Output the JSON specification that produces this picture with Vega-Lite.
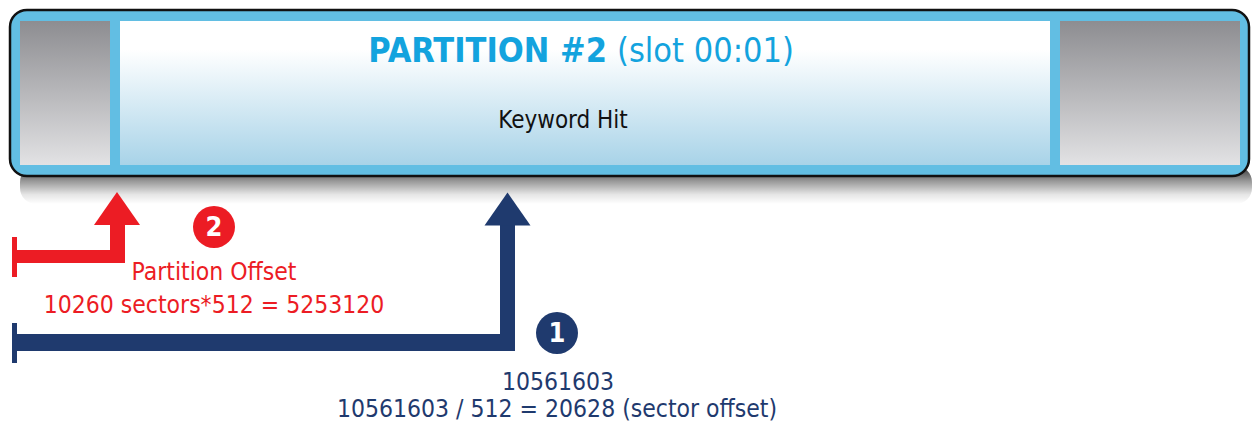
{
  "$schema": "https://vega.github.io/schema/vega-lite/v6.json",
  "width": 1253,
  "height": 429,
  "autosize": {"type": "fit", "contains": "padding"},
  "padding": 0,
  "background": "white",
  "config": {"view": {"stroke": null}},
  "datasets": {
    "shadow": [{"x0": 20, "x1": 1252, "y0": 166, "y1": 204}],
    "frame": [{"x0": 10, "x1": 1249, "y0": 10, "y1": 176}],
    "gray": [{"x0": 20, "x1": 110, "y0": 21, "y1": 165}, {"x0": 1060, "x1": 1240, "y0": 21, "y1": 165}],
    "center": [{"x0": 120, "x1": 1050, "y0": 21, "y1": 165}],
    "bars": [
      {"arrow": "offset", "x0": 12, "x1": 17, "y0": 237, "y1": 277},
      {"arrow": "offset", "x0": 15, "x1": 125, "y0": 250, "y1": 263},
      {"arrow": "offset", "x0": 110, "x1": 125, "y0": 222, "y1": 263},
      {"arrow": "hit", "x0": 12, "x1": 17, "y0": 323, "y1": 363},
      {"arrow": "hit", "x0": 15, "x1": 515, "y0": 334, "y1": 351},
      {"arrow": "hit", "x0": 500, "x1": 515, "y0": 222, "y1": 351}
    ],
    "heads": [{"arrow": "offset", "x": 117, "y": 208.5}, {"arrow": "hit", "x": 507.5, "y": 209}],
    "badges": [{"arrow": "offset", "x": 214, "y": 227, "n": "2"}, {"arrow": "hit", "x": 557, "y": 333, "n": "1"}],
    "labels": [
      {"arrow": "offset", "x": 214, "y": 280, "text": "Partition Offset"},
      {"arrow": "offset", "x": 214, "y": 313, "text": "10260 sectors*512 = 5253120"},
      {"arrow": "hit", "x": 558, "y": 390, "text": "10561603"},
      {"arrow": "hit", "x": 557, "y": 417, "text": "10561603 / 512 = 20628 (sector offset)"}
    ],
    "titleBold": [{"x": 607, "y": 62, "text": "PARTITION #2"}],
    "titleReg": [{"x": 617, "y": 62, "text": "(slot 00:01)"}],
    "hit": [{"x": 563, "y": 128, "text": "Keyword Hit"}]
  },
  "layer": [
    {
      "data": {"name": "shadow"},
      "mark": {"type": "rect", "cornerRadius": 16, "fill": {"gradient": "linear", "x1": 0, "y1": 0, "x2": 0, "y2": 1, "stops": [{"offset": 0, "color": "rgba(0,0,0,0.8)"}, {"offset": 0.4, "color": "rgba(0,0,0,0.4)"}, {"offset": 0.75, "color": "rgba(0,0,0,0.1)"}, {"offset": 1, "color": "rgba(0,0,0,0)"}]}},
      "encoding": {
        "x": {"field": "x0", "type": "quantitative", "scale": {"domain": [0, 1253], "nice": false, "zero": false}, "axis": null},
        "x2": {"field": "x1"},
        "y": {"field": "y0", "type": "quantitative", "scale": {"domain": [0, 429], "nice": false, "zero": false, "reverse": true}, "axis": null},
        "y2": {"field": "y1"}
      }
    },
    {
      "data": {"name": "frame"},
      "mark": {"type": "rect", "cornerRadius": 17, "fill": "#62bee3", "stroke": "#111111", "strokeWidth": 2.5},
      "encoding": {
        "x": {"field": "x0", "type": "quantitative", "axis": null},
        "x2": {"field": "x1"},
        "y": {"field": "y0", "type": "quantitative", "axis": null},
        "y2": {"field": "y1"}
      }
    },
    {
      "data": {"name": "gray"},
      "mark": {"type": "rect", "fill": {"gradient": "linear", "x1": 0, "y1": 0, "x2": 0, "y2": 1, "stops": [{"offset": 0, "color": "#8d8d91"}, {"offset": 1, "color": "#e2e2e4"}]}},
      "encoding": {
        "x": {"field": "x0", "type": "quantitative", "axis": null},
        "x2": {"field": "x1"},
        "y": {"field": "y0", "type": "quantitative", "axis": null},
        "y2": {"field": "y1"}
      }
    },
    {
      "data": {"name": "center"},
      "mark": {"type": "rect", "fill": {"gradient": "linear", "x1": 0, "y1": 0, "x2": 0, "y2": 1, "stops": [{"offset": 0, "color": "#ffffff"}, {"offset": 0.2, "color": "#ffffff"}, {"offset": 1, "color": "#a8d3e8"}]}},
      "encoding": {
        "x": {"field": "x0", "type": "quantitative", "axis": null},
        "x2": {"field": "x1"},
        "y": {"field": "y0", "type": "quantitative", "axis": null},
        "y2": {"field": "y1"}
      }
    },
    {
      "data": {"name": "bars"},
      "mark": {"type": "rect"},
      "encoding": {
        "x": {"field": "x0", "type": "quantitative", "axis": null},
        "x2": {"field": "x1"},
        "y": {"field": "y0", "type": "quantitative", "axis": null},
        "y2": {"field": "y1"},
        "color": {"field": "arrow", "type": "nominal", "scale": {"domain": ["offset", "hit"], "range": ["#ec1c24", "#1f3a6e"]}, "legend": null}
      }
    },
    {
      "data": {"name": "heads"},
      "mark": {"type": "point", "filled": true, "opacity": 1, "size": 2116, "shape": "M0,-0.72L1,0.72L-1,0.72Z"},
      "encoding": {
        "x": {"field": "x", "type": "quantitative", "axis": null},
        "y": {"field": "y", "type": "quantitative", "axis": null},
        "color": {"field": "arrow", "type": "nominal", "legend": null}
      }
    },
    {
      "data": {"name": "badges"},
      "mark": {"type": "point", "filled": true, "opacity": 1, "size": 1764, "shape": "circle"},
      "encoding": {
        "x": {"field": "x", "type": "quantitative", "axis": null},
        "y": {"field": "y", "type": "quantitative", "axis": null},
        "color": {"field": "arrow", "type": "nominal", "legend": null}
      }
    },
    {
      "data": {"name": "badges"},
      "mark": {"type": "text", "font": "DejaVu Sans Condensed, DejaVu Sans", "fontWeight": "bold", "fontSize": 27, "color": "white", "align": "center", "baseline": "middle", "dy": 1},
      "encoding": {
        "x": {"field": "x", "type": "quantitative", "axis": null},
        "y": {"field": "y", "type": "quantitative", "axis": null},
        "text": {"field": "n"}
      }
    },
    {
      "data": {"name": "labels"},
      "mark": {"type": "text", "font": "DejaVu Sans Condensed, DejaVu Sans", "fontSize": 24.5, "align": "center", "baseline": "alphabetic"},
      "encoding": {
        "x": {"field": "x", "type": "quantitative", "axis": null},
        "y": {"field": "y", "type": "quantitative", "axis": null},
        "text": {"field": "text"},
        "color": {"field": "arrow", "type": "nominal", "legend": null}
      }
    },
    {
      "data": {"name": "titleBold"},
      "mark": {"type": "text", "font": "DejaVu Sans Condensed, DejaVu Sans", "fontWeight": "bold", "fontSize": 34, "color": "#13a3de", "align": "right", "baseline": "alphabetic"},
      "encoding": {
        "x": {"field": "x", "type": "quantitative", "axis": null},
        "y": {"field": "y", "type": "quantitative", "axis": null},
        "text": {"field": "text"}
      }
    },
    {
      "data": {"name": "titleReg"},
      "mark": {"type": "text", "font": "DejaVu Sans Condensed, DejaVu Sans", "fontSize": 34, "color": "#13a3de", "align": "left", "baseline": "alphabetic"},
      "encoding": {
        "x": {"field": "x", "type": "quantitative", "axis": null},
        "y": {"field": "y", "type": "quantitative", "axis": null},
        "text": {"field": "text"}
      }
    },
    {
      "data": {"name": "hit"},
      "mark": {"type": "text", "font": "DejaVu Sans Condensed, DejaVu Sans", "fontSize": 24, "color": "#111111", "align": "center", "baseline": "alphabetic"},
      "encoding": {
        "x": {"field": "x", "type": "quantitative", "axis": null},
        "y": {"field": "y", "type": "quantitative", "axis": null},
        "text": {"field": "text"}
      }
    }
  ]
}
